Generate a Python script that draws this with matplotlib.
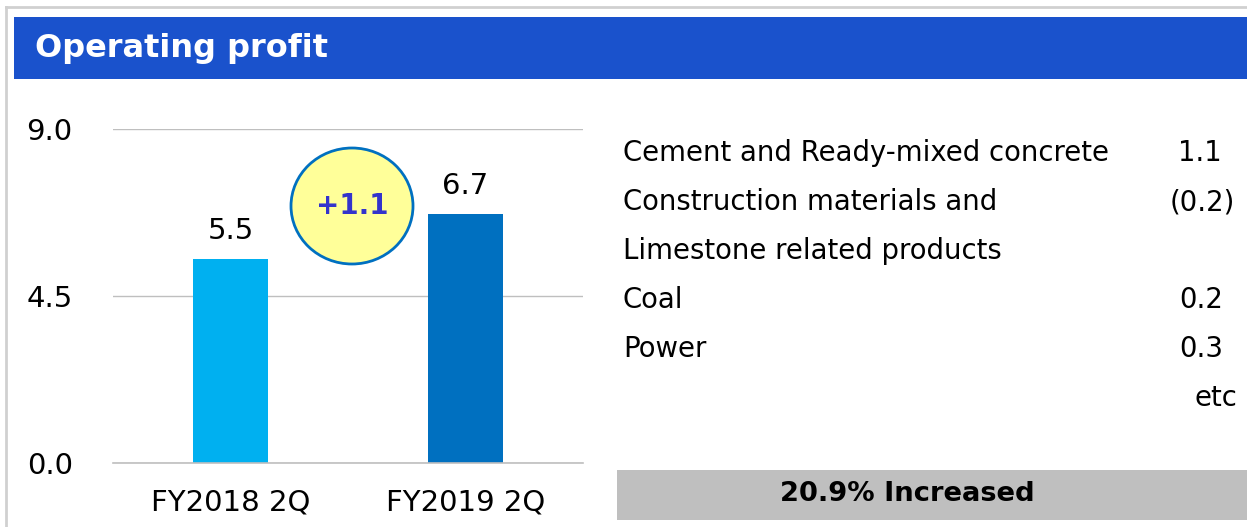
import matplotlib
matplotlib.use("Agg")
import matplotlib.pyplot as plt
from matplotlib.patches import Rectangle, Ellipse

# data
periods = ["FY2018 2Q", "FY2019 2Q"]
profit = [5.5, 6.7]
bar_colors = ["#00B0F0", "#0070C0"]
yticks = [0.0, 4.5, 9.0]
diff_label = "+1.1"

factor_names = ["Cement and Ready-mixed concrete", "Construction materials and",
                "Limestone related products", "Coal", "Power", ""]
factor_values = ["1.1", "(0.2)", "", "0.2", "0.3", "etc"]
summary = "20.9% Increased"

W, H = 1247, 527
fig = plt.figure(figsize=(W / 100, H / 100), dpi=100)
fig.patch.set_facecolor("white")


def px(x, y):
    # pixel coords (top-left origin) -> figure fraction
    return x / W, 1 - y / H


# outer frame
fig.add_artist(plt.Line2D([6 / W, 1], [1 - 7 / H, 1 - 7 / H], color="#D0D0D0", lw=2))
fig.add_artist(plt.Line2D([6 / W, 6 / W], [0, 1 - 7 / H], color="#D0D0D0", lw=2))

# header bar
x0, y0 = px(14, 79)
fig.add_artist(Rectangle((x0, y0), 1 - x0, 62 / H, transform=fig.transFigure,
                         facecolor="#1A52CC", edgecolor="none"))
fig.text(*px(35, 49), "Operating profit", color="white", fontsize=23,
         fontweight="bold", va="center", ha="left")

# bar chart
ax = fig.add_axes([113 / W, (H - 463) / H, 470 / W, 334 / H])
xs = range(len(periods))
ax.bar(xs, profit, width=0.32, color=bar_colors, zorder=3)
ax.set_xlim(-0.5, 1.5)
ax.set_ylim(0, 9)
ax.set_yticks(yticks)
ax.set_yticklabels([f"{v:.1f}" for v in yticks], fontsize=21)
ax.set_xticks(list(xs))
ax.set_xticklabels(periods, fontsize=21)
ax.tick_params(length=0)
ax.tick_params(axis="x", pad=18)
ax.tick_params(axis="y", pad=29)
ax.grid(axis="y", color="#BFBFBF", lw=1, zorder=0)
ax.axhline(0, color="#BFBFBF", lw=1.2, zorder=4, clip_on=False)
for s in ax.spines.values():
    s.set_visible(False)
for i, v in enumerate(profit):
    ax.annotate(f"{v}", (i, v), xytext=(0, 10), textcoords="offset points",
                ha="center", va="bottom", fontsize=21)

# difference bubble
ex, ey = px(352, 206)
fig.add_artist(Ellipse((ex, ey), 122 / W, 116 / H, transform=fig.transFigure,
                       facecolor="#FFFF99", edgecolor="#0070C0", lw=2, zorder=5))
fig.text(ex, ey, diff_label, ha="center", va="center", fontsize=20,
         fontweight="bold", color="#3333CC", zorder=6)

# breakdown text
right_edges = [1222, 1235, 1222, 1223, 1223, 1237]
for i, (name, val) in enumerate(zip(factor_names, factor_values)):
    y = 153 + 49 * i
    if name:
        fig.text(*px(623, y), name, fontsize=19.8, va="center", ha="left")
    if val:
        fig.text(*px(right_edges[i], y), val, fontsize=19.8, va="center", ha="right")

# summary box
bx, by = px(617, 520)
fig.add_artist(Rectangle((bx, by), 1 - bx, 50 / H, transform=fig.transFigure,
                         facecolor="#BFBFBF", edgecolor="none"))
fig.text(*px(907, 494), summary, fontsize=19.7, fontweight="bold",
         ha="center", va="center")

fig.savefig("out.png", dpi=100)
